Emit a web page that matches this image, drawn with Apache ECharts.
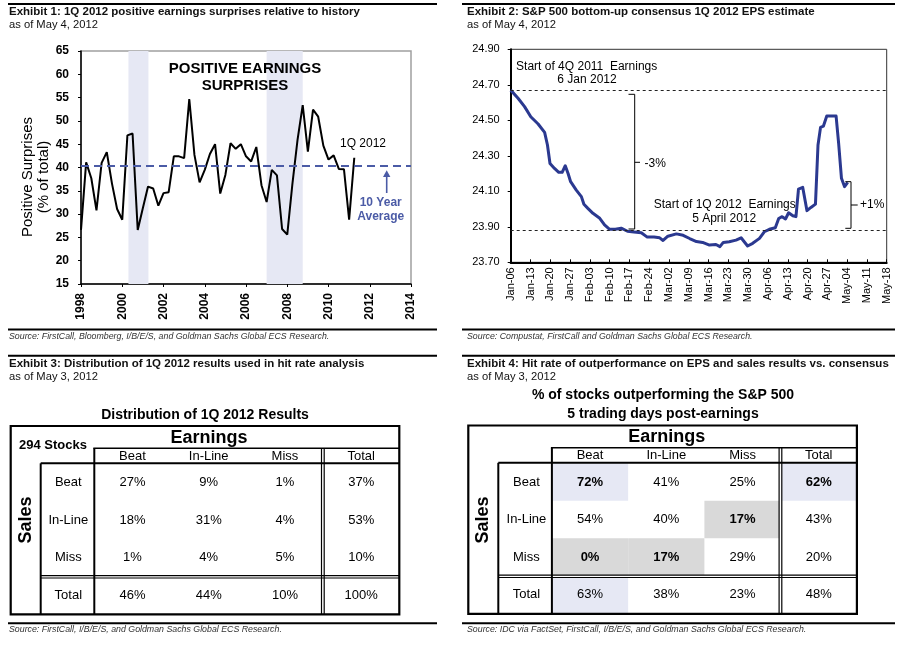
<!DOCTYPE html>
<html><head><meta charset="utf-8">
<script src="https://cdn.jsdelivr.net/npm/echarts@6/dist/echarts.min.js"></script>
<style>html,body{margin:0;padding:0;background:#fff}#c{width:903px;height:645px}</style>
</head><body><div id="c"></div>
<script>
const FONT = '"Liberation Sans", Arial, Helvetica, sans-serif';

// ---------- Exhibit 1 data ----------
const surpriseStartYear = 1998;          // first quarter plotted
const surpriseValues = [
  26.6, 41.1, 37.7, 30.8,
  41.0, 43.3, 36.6, 31.1,
  28.8, 46.9, 47.3, 26.6,
  31.3, 35.9, 35.5, 31.8,
  34.5, 34.7, 42.4, 42.4,
  42.0, 54.7, 42.7, 36.8,
  39.5, 42.9, 45.0, 34.4,
  38.4, 45.2, 44.0, 45.0,
  42.4, 41.3, 44.4, 36.2,
  32.6, 39.5, 38.3, 26.8,
  25.6, 36.5, 46.0, 53.4,
  43.4, 52.4, 50.9, 44.7,
  41.7, 42.6, 39.7, 39.6,
  28.8, 42.1
];
const recessions = [[2000.3, 2001.27], [2007.0, 2008.75]];
const tenYearAverage = 40.4;

// ---------- Exhibit 2 data ----------
const epsTickLabels = ['Jan-06','Jan-13','Jan-20','Jan-27','Feb-03','Feb-10','Feb-17','Feb-24','Mar-02','Mar-09',
  'Mar-16','Mar-23','Mar-30','Apr-06','Apr-13','Apr-20','Apr-27','May-04','May-11','May-18'];
const epsDays = [0,2.6,4.9,7.1,9.7,12.0,13.0,13.9,15.5,17.0,18.2,19.3,20.3,21.2,23.2,25.0,25.9,27.3,29.1,31.5,
  33.2,35.0,37.0,39.1,41.3,43.6,46.2,48.3,50.7,52.7,53.9,55.6,58.6,61.0,63.3,65.7,67.9,70.3,72.6,74.0,
  75.2,77.3,79.7,81.5,82.6,83.8,85.6,88.0,89.7,91.5,93.6,94.8,96.0,97.2,98.3,99.8,100.9,101.8,103.3,104.8,
  106.2,107.8,108.7,109.6,110.6,111.8,115.1,116.0,117.0,118.1,119.2];
const epsValues = [24.67,24.624,24.577,24.52,24.479,24.432,24.361,24.257,24.229,24.207,24.207,24.244,24.20,24.154,24.107,24.07,24.027,24.004,23.976,23.948,
  23.911,23.886,23.886,23.892,23.875,23.871,23.866,23.842,23.842,23.838,23.823,23.847,23.86,23.852,23.834,23.817,23.812,23.797,23.80,23.788,
  23.812,23.816,23.825,23.838,23.816,23.792,23.807,23.835,23.872,23.886,23.895,23.947,23.957,23.944,23.979,23.962,23.957,24.112,24.122,23.991,
  24.009,24.028,24.361,24.46,24.467,24.524,24.524,24.37,24.173,24.126,24.15];
const epsRefLines = [24.67, 23.875];

// ---------- Exhibit 3 / 4 data ----------
const tableCols = ['Beat','In-Line','Miss','Total'];
const tableRows = ['Beat','In-Line','Miss','Total'];
const distValues = [[27,9,1,37],[18,31,4,53],[1,4,5,10],[46,44,10,100]];
const hitValues  = [[72,41,25,62],[54,40,17,43],[0,17,29,20],[63,38,23,48]];
// styling of highlighted cells (row,col)
const hitShade = {'0,0':'#e6e8f4','0,3':'#e6e8f4','3,0':'#e6e8f4','1,2':'#d9d9d9','2,0':'#d9d9d9','2,1':'#d9d9d9'};
const hitBold = {'0,0':1,'0,3':1,'1,2':1,'2,0':1,'2,1':1};

// ---------- helpers ----------
function toCells(m){ const out=[]; m.forEach((r,ri)=>r.forEach((v,ci)=>out.push([ci,ri,v]))); return out; }
function cellRenderer(shade, bold){
  return function(params, api){
    const col=api.value(0), row=api.value(1), val=api.value(2);
    const c=api.coord([col,row]); const s=api.size([1,1]);
    const key=row+','+col;
    return {type:'group', children:[
      {type:'rect', shape:{x:c[0]-s[0]/2, y:c[1]-s[1]/2, width:s[0], height:s[1]}, style:{fill:shade[key]||'rgba(0,0,0,0)'}},
      {type:'text', x:c[0], y:c[1], style:{text:val+'%', align:'center', verticalAlign:'middle',
        font:(bold[key]?'bold ':'')+'13px '+FONT, fill:'#000'}}
    ]};
  };
}
function txt(x,y,text,font,o){ return {type:'text', x:x, y:y, z:30, style:Object.assign({text:text, font:font, fill:'#000', align:'left', verticalAlign:'middle'}, o||{})}; }
function hl(x1,x2,y,w,c){ return {type:'line', z:30, shape:{x1:x1,y1:y,x2:x2,y2:y}, style:{stroke:c||'#000', lineWidth:w||1}}; }
function vl(x,y1,y2,w,c){ return {type:'line', z:30, shape:{x1:x,y1:y1,x2:x,y2:y2}, style:{stroke:c||'#000', lineWidth:w||1}}; }
function pl(points,w,c){ return {type:'polyline', z:30, shape:{points:points}, style:{stroke:c||'#000', lineWidth:w||1, fill:null}}; }

function tableFrame(L,T){
  const g=[];
  g.push({type:'rect', z:30, shape:{x:L, y:T, width:388.6, height:188.3}, style:{fill:null, stroke:'#000', lineWidth:2.2}});
  g.push(hl(L+82.6, L+388.6, T+22.3, 1.5));
  g.push(vl(L+83.6, T+22.3, T+188.3, 2));
  g.push(vl(L+30, T+37.3, T+188.3, 2));
  g.push(hl(L+30, L+388.6, T+37.3, 2));
  g.push({type:'rect', z:29, shape:{x:L+310.8, y:T+22.3, width:2.7, height:166}, style:{fill:'#fff'}});
  g.push(vl(L+310.8, T+22.3, T+188.3, 1.2));
  g.push(vl(L+313.5, T+22.3, T+188.3, 1.2));
  g.push({type:'rect', z:29, shape:{x:L+30, y:T+149.6, width:358.6, height:2.4}, style:{fill:'#fff'}});
  g.push(hl(L+30, L+388.6, T+149.6, 1.2));
  g.push(hl(L+30, L+388.6, T+152.0, 1.2));
  return g;
}

const AVG = '#4b5ba6';
const srcFont = 'italic 8.8px '+FONT;
const ttlFont = 'bold 11.5px '+FONT;
const asofFont = '11.2px '+FONT;
const graphics = [
  // rules
  hl(8,437,4,2), hl(462,895,4,2),
  hl(8,437,329.5,2), hl(462,895,329.5,2),
  hl(8,437,355.7,2), hl(462,895,355.7,2),
  hl(8,437,623.3,2), hl(462,895,623.3,2),
  // titles
  txt(9,11.5,'Exhibit 1: 1Q 2012 positive earnings surprises relative to history',ttlFont,{fill:'#111'}),
  txt(9,25,'as of May 4, 2012',asofFont,{fill:'#111'}),
  txt(467,11.5,'Exhibit 2: S&P 500 bottom-up consensus 1Q 2012 EPS estimate',ttlFont,{fill:'#111'}),
  txt(467,25,'as of May 4, 2012',asofFont,{fill:'#111'}),
  txt(9,363.5,'Exhibit 3: Distribution of 1Q 2012 results used in hit rate analysis',ttlFont,{fill:'#111'}),
  txt(9,377,'as of May 3, 2012',asofFont,{fill:'#111'}),
  txt(467,363.5,'Exhibit 4: Hit rate of outperformance on EPS and sales results vs. consensus',ttlFont,{fill:'#111'}),
  txt(467,377,'as of May 3, 2012',asofFont,{fill:'#111'}),
  // sources
  txt(9,336.5,'Source: FirstCall, Bloomberg, I/B/E/S, and Goldman Sachs Global ECS Research.',srcFont,{fill:'#333'}),
  txt(467,336.5,'Source: Compustat, FirstCall and Goldman Sachs Global ECS Research.',srcFont,{fill:'#333'}),
  txt(9,629.5,'Source: FirstCall, I/B/E/S, and Goldman Sachs Global ECS Research.',srcFont,{fill:'#333'}),
  txt(467,629.5,'Source: IDC via FactSet, FirstCall, I/B/E/S, and Goldman Sachs Global ECS Research.',srcFont,{fill:'#333'}),
  // Exhibit 1 annotations
  {type:'text', x:35.5, y:177, rotation:Math.PI/2, z:30, style:{text:'Positive Surprises\n(% of total)', font:'15px '+FONT, fill:'#000', align:'center', verticalAlign:'middle', lineHeight:16}},
  txt(245,69,'POSITIVE EARNINGS','bold 15px '+FONT,{align:'center'}),
  txt(245,85.5,'SURPRISES','bold 15px '+FONT,{align:'center'}),
  txt(363,143.7,'1Q 2012','12px '+FONT,{align:'center'}),
  vl(386.7,176,193,1.6,AVG),
  {type:'polygon', z:30, shape:{points:[[383,177],[390.4,177],[386.7,170.3]]}, style:{fill:AVG}},
  txt(380.7,202.3,'10 Year','bold 12px '+FONT,{align:'center', fill:AVG}),
  txt(380.7,216.3,'Average','bold 12px '+FONT,{align:'center', fill:AVG}),
  // Exhibit 2 annotations
  txt(586.7,66.7,'Start of 4Q 2011  Earnings','12px '+FONT,{align:'center'}),
  txt(587,80,'6 Jan 2012','12px '+FONT,{align:'center'}),
  pl([[628.5,94.3],[634.7,94.3],[634.7,229],[628.5,229]],1),
  hl(634.7,640,162.3,1),
  txt(644.5,164,'-3%','12px '+FONT),
  txt(724.7,205,'Start of 1Q 2012  Earnings','12px '+FONT,{align:'center'}),
  txt(724.2,218.8,'5 April 2012','12px '+FONT,{align:'center'}),
  pl([[845.3,181.7],[851,181.7],[851,228.3],[845.3,228.3]],1),
  hl(851,857.7,205,1),
  txt(860,205,'+1%','12px '+FONT),
  // Exhibit 3 texts
  txt(205,415.3,'Distribution of 1Q 2012 Results','bold 14px '+FONT,{align:'center'}),
  txt(53,445.3,'294 Stocks','bold 13px '+FONT,{align:'center'}),
  txt(209,437.7,'Earnings','bold 18px '+FONT,{align:'center'}),
  {type:'text', x:26, y:520, rotation:Math.PI/2, z:30, style:{text:'Sales', font:'bold 18px '+FONT, fill:'#000', align:'center', verticalAlign:'middle'}},
  // Exhibit 4 texts
  txt(663,395,'% of stocks outperforming the S&P 500','bold 14px '+FONT,{align:'center'}),
  txt(663,414,'5 trading days post-earnings','bold 14px '+FONT,{align:'center'}),
  txt(666.7,436.7,'Earnings','bold 18px '+FONT,{align:'center'}),
  {type:'text', x:483.3, y:520, rotation:Math.PI/2, z:30, style:{text:'Sales', font:'bold 18px '+FONT, fill:'#000', align:'center', verticalAlign:'middle'}}
].concat(tableFrame(10.7,426), tableFrame(468.3,425.5));

const chart = echarts.init(document.getElementById('c'), null, {renderer:'canvas'});
const tableAxisLabel = {fontSize:13, color:'#000', fontFamily:FONT};
chart.setOption({
  backgroundColor:'#fff',
  animation:false,
  textStyle:{fontFamily:FONT},
  grid:[
    {left:81, top:51, width:330, height:233, show:true, borderColor:'#a0a0a0', borderWidth:1.5, containLabel:false},
    {left:510.7, top:49.3, width:376, height:213, show:true, borderColor:'#333', borderWidth:1, containLabel:false},
    {left:94.3, top:463.3, width:305, height:151},
    {left:551.9, top:463.3, width:305, height:150}
  ],
  xAxis:[
    {gridIndex:0, type:'value', min:1998, max:2014, interval:2,
      axisLine:{lineStyle:{color:'#000', width:1.5}}, axisTick:{length:3, lineStyle:{color:'#000'}},
      splitLine:{show:false},
      axisLabel:{rotate:90, margin:9, fontSize:12, fontWeight:'bold', color:'#000', formatter:v=>String(v)}},
    {gridIndex:1, type:'value', min:0, max:133, interval:7,
      axisLine:{lineStyle:{color:'#000', width:2}}, axisTick:{inside:true, length:3, lineStyle:{color:'#000'}},
      splitLine:{show:false},
      axisLabel:{rotate:90, margin:5, fontSize:11, color:'#000', formatter:v=>epsTickLabels[Math.round(v/7)]||''}},
    {gridIndex:2, type:'category', data:tableCols, position:'top', axisLine:{show:false}, axisTick:{show:false},
      axisLabel:Object.assign({margin:7, verticalAlign:'middle'}, tableAxisLabel)},
    {gridIndex:3, type:'category', data:tableCols, position:'top', axisLine:{show:false}, axisTick:{show:false},
      axisLabel:Object.assign({margin:7.5, verticalAlign:'middle'}, tableAxisLabel)}
  ],
  yAxis:[
    {gridIndex:0, type:'value', min:15, max:65, interval:5,
      axisLine:{show:true, lineStyle:{color:'#000', width:1.5}}, axisTick:{show:true, length:3, lineStyle:{color:'#000'}},
      splitLine:{show:false},
      axisLabel:{margin:12, fontSize:12, fontWeight:'bold', color:'#000'}},
    {gridIndex:1, type:'value', min:23.7, max:24.9, interval:0.2,
      axisLine:{show:true, lineStyle:{color:'#000', width:2}}, axisTick:{show:true, length:3, lineStyle:{color:'#000'}},
      splitLine:{show:false},
      axisLabel:{margin:11, fontSize:11, color:'#000', formatter:v=>v.toFixed(2)}},
    {gridIndex:2, type:'category', data:tableRows, inverse:true, axisLine:{show:false}, axisTick:{show:false},
      axisLabel:Object.assign({margin:26, align:'center'}, tableAxisLabel)},
    {gridIndex:3, type:'category', data:tableRows, inverse:true, axisLine:{show:false}, axisTick:{show:false},
      axisLabel:Object.assign({margin:25.5, align:'center'}, tableAxisLabel)}
  ],
  series:[
    {type:'line', xAxisIndex:0, yAxisIndex:0, symbol:'none', z:3,
      lineStyle:{color:'#000', width:2},
      data:surpriseValues.map((v,i)=>[surpriseStartYear+i*0.25, v]),
      markArea:{silent:true, itemStyle:{color:'#e6e8f4'}, data:recessions.map(r=>[{xAxis:r[0]},{xAxis:r[1]}])},
      markLine:{silent:true, symbol:'none', label:{show:false}, lineStyle:{color:AVG, width:2, type:[8,5]},
        data:[{yAxis:tenYearAverage}]}
    },
    {type:'line', xAxisIndex:1, yAxisIndex:1, symbol:'none', z:3,
      lineStyle:{color:'#2b3990', width:3, join:'round'},
      data:epsDays.map((d,i)=>[d, epsValues[i]]),
      markLine:{silent:true, symbol:'none', label:{show:false}, lineStyle:{color:'#222', width:1, type:[3,3]},
        data:epsRefLines.map(v=>({yAxis:v}))}
    },
    {type:'custom', xAxisIndex:2, yAxisIndex:2, renderItem:cellRenderer({}, {}), data:toCells(distValues)},
    {type:'custom', xAxisIndex:3, yAxisIndex:3, renderItem:cellRenderer(hitShade, hitBold), data:toCells(hitValues)}
  ],
  graphic:{elements:graphics}
});
</script></body></html>
